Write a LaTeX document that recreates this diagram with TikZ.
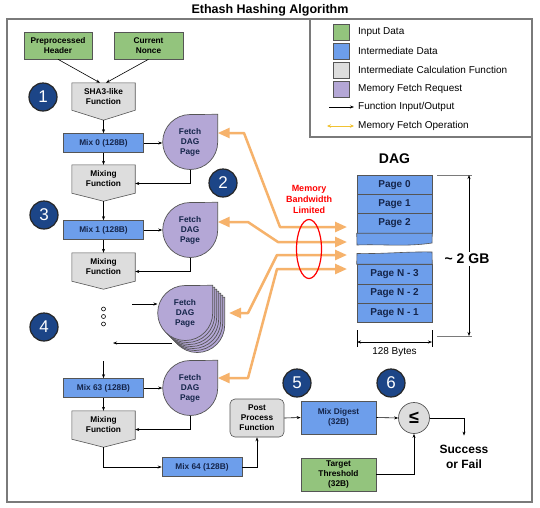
\documentclass[tikz,border=0pt]{standalone}
\usepackage{fontspec}
\setmainfont{Liberation Sans}
\usetikzlibrary{arrows.meta,backgrounds,calc}
\pgfdeclarelayer{paper}
\pgfsetlayers{paper,background,main}
\definecolor{ingreen}{HTML}{93C47D}
\definecolor{midblue}{HTML}{6D9EEB}
\definecolor{calcgray}{HTML}{DDDDDD}
\definecolor{fetchpurple}{HTML}{B4A7D6}
\definecolor{badgenavy}{HTML}{1C4587}
\definecolor{memorange}{HTML}{F6B26B}
\definecolor{legorange}{HTML}{F1C232}
\definecolor{bordergray}{HTML}{555555}
\definecolor{framegray}{HTML}{7A7A7A}
\definecolor{darktext}{HTML}{15254A}
\tikzset{
  fn/.style={draw=black, line width=0.6pt, -{Stealth[length=4pt,width=3pt]}},
  memop/.style={draw=memorange, line width=2.5pt, line join=round,
    {Triangle[length=12pt,width=10pt]}-{Triangle[length=12pt,width=10pt]}},
  boxtext/.style={font=\fontsize{8.3}{10}\selectfont\bfseries, align=center, inner sep=0pt},
  inbox/.style={boxtext, draw=bordergray, line width=0.6pt, fill=ingreen},
  databox/.style={boxtext, draw=bordergray, line width=0.6pt, fill=midblue, text=darktext,
    minimum width=80pt, minimum height=19pt},
  calcnode/.style={boxtext, minimum width=63pt},
  calcshape/.style={draw=bordergray, line width=0.6pt, fill=calcgray},
  fetchnode/.style={boxtext, circle, minimum size=55pt, text=darktext},
  fetchshape/.style={draw=bordergray, line width=0.7pt, fill=fetchpurple},
  badge/.style={circle, fill=badgenavy, draw=black!85, line width=1.2pt, minimum size=28pt,
    inner sep=0pt, text=white, font=\fontsize{17}{17}\selectfont},
  page/.style={draw=bordergray, line width=0.6pt, fill=midblue, minimum width=75pt,
    minimum height=19.3pt, inner sep=0pt, text=darktext, font=\fontsize{10}{12}\selectfont\bfseries},
  swatch/.style={draw=bordergray, line width=0.6pt, minimum size=16pt, inner sep=0pt},
  legtext/.style={anchor=west, inner sep=0pt, font=\fontsize{10}{12}\selectfont},
}
\newcommand{\pentanode}[5]{%
  \node[calcnode, minimum height=#3] (#1) at (#2) {#5};
  \coordinate (#1-tip) at ([yshift=-#4]#1.south);
  \begin{pgfonlayer}{background}
    \path[calcshape] (#1.north west) -- (#1.north east) -- (#1.south east) -- (#1-tip)
      -- (#1.south west) -- cycle;
  \end{pgfonlayer}}
\newcommand{\fetchshape}[2][0pt]{%
  \path[fetchshape] ([shift={(#1,-#1)}]#2.east |- #2.north) -- ([shift={(#1,-#1)}]#2.east)
    arc[start angle=0, end angle=-270, radius=27.5pt] -- cycle;}
\begin{document}
\begin{tikzpicture}[x=1pt, y=-1pt]
\useasboundingbox (0,0) rectangle (540,507);
\begin{pgfonlayer}{paper}
\fill[white] (0,0) rectangle (540,507);
\end{pgfonlayer}
% title and frames
\node[font=\fontsize{12.5}{14}\selectfont\bfseries] (title) at (270,10) {Ethash Hashing Algorithm};
\draw[framegray, line width=1.1pt] (7,19) rectangle (532,502);
\draw[framegray, line width=1.1pt] (310,19) rectangle (532,137);

% legend
\node[swatch, fill=ingreen] (sw1) at (341,32) {};
\node[swatch, fill=midblue] (sw2) at (341,51) {};
\node[swatch, fill=calcgray] (sw3) at (341,70) {};
\node[swatch, fill=fetchpurple] (sw4) at (341,89) {};
\node[legtext] (lt1) at (358,32) {Input Data};
\node[legtext] (lt2) at (358,51) {Intermediate Data};
\node[legtext] (lt3) at (358,70) {Intermediate Calculation Function};
\node[legtext] (lt4) at (358,89) {Memory Fetch Request};
\node[legtext] (lt5) at (358,107) {Function Input/Output};
\node[legtext] (lt6) at (358,126) {Memory Fetch Operation};
\coordinate (la5) at (329,107);
\coordinate (la6) at (327,126);
\draw[fn] (la5) -- ([xshift=-4pt]lt5.west);
\draw[draw=legorange, line width=0.8pt, {Stealth[length=4pt,width=3.5pt]}-{Stealth[length=4pt,width=3.5pt]}]
  (la6) -- ([xshift=-4pt]lt6.west);

% inputs
\node[inbox, minimum width=68pt, minimum height=27pt] (hdr) at (58,45.5) {Preprocessed\\Header};
\node[inbox, minimum width=69pt, minimum height=27pt] (nonce) at (148.5,45.5) {Current\\Nonce};

% left column
\pentanode{sha3}{103.5,96.5}{27pt}{10pt}{SHA3-like\\Function}
\node[databox] (mix0) at (103.5,143) {Mix 0 (128B)};
\pentanode{mf1}{103.5,179}{28pt}{8pt}{Mixing\\Function}
\node[databox] (mix1) at (103.5,230) {Mix 1 (128B)};
\pentanode{mf2}{103.5,267}{28pt}{8pt}{Mixing\\Function}
\node[databox] (mix63) at (103.5,388) {Mix 63 (128B)};
\pentanode{mf3}{103.5,425}{28pt}{8pt}{Mixing\\Function}
\node[databox] (mix64) at (202,467) {Mix 64 (128B)};

% fetch nodes
\node[fetchnode] (fetch0) at (190,142) {Fetch\\DAG\\Page};
\node[fetchnode] (fetch1) at (190,230) {Fetch\\DAG\\Page};
\node[fetchnode] (stack) at (185,313) {Fetch\\DAG\\Page};
\node[fetchnode] (fetch63) at (190,388) {Fetch\\DAG\\Page};
\begin{pgfonlayer}{background}
  \fetchshape{fetch0}
  \fetchshape{fetch1}
  \fetchshape{fetch63}
  \foreach \k in {12,10,8,6,4,2} {\fetchshape[\k pt]{stack}}
  \fetchshape{stack}
\end{pgfonlayer}

% dots
\foreach \yy in {309,316.5,324} \draw[black, line width=0.6pt] (103.5,\yy) circle[radius=2pt];

% badges
\node[badge] (b1) at (43,97) {1};
\node[badge] (b2) at (223,183) {2};
\node[badge] (b3) at (44,215) {3};
\node[badge] (b4) at (44,327) {4};
\node[badge] (b5) at (297,383) {5};
\node[badge] (b6) at (391,383) {6};

% function connectors, left column
\draw[fn] (hdr.south) -- ([xshift=-3.5pt]sha3.north);
\draw[fn] (nonce.south) -- ([xshift=2.5pt]sha3.north);
\draw[fn] (sha3-tip) -- (mix0.north);
\draw[fn] (mix0.east) -- (mix0.east -| fetch0.west);
\draw[fn] (mix0.south) -- (mf1.north);
\draw[fn] (fetch0.south) |- ([yshift=-4.5pt]mf1.east);
\draw[fn] (mf1-tip) -- (mix1.north);
\draw[fn] (mix1.east) -- (mix1.east -| fetch1.west);
\draw[fn] (mix1.south) -- (mf2.north);
\draw[fn] (fetch1.south) |- ([yshift=-4.5pt]mf2.east);
\coordinate (stackin) at (132,304);
\draw[fn] (stackin) -- (157.5,304);
\coordinate (stackout0) at (172,343);
\coordinate (stackout) at (113,343);
\draw[fn] (stackout0) -- (stackout);
\coordinate (mix63in) at (103.5,361);
\draw[fn] (mix63in) -- (mix63.north);
\draw[fn] (mix63.east) -- (mix63.east -| fetch63.west);
\draw[fn] (mix63.south) -- (mf3.north);
\draw[fn] (fetch63.south) |- ([yshift=-4.5pt]mf3.east);
\draw[fn] (mf3-tip) |- (mix64.west);

% post processing
\node[boxtext, draw=bordergray, line width=0.6pt, fill=calcgray, rounded corners=5pt,
  minimum width=54pt, minimum height=38pt] (post) at (257,418) {Post\\Process\\Function};
\node[databox, minimum width=75pt, minimum height=33pt] (digest) at (338.5,417.5) {Mix Digest\\(32B)};
\node[inbox, minimum width=75pt, minimum height=33pt] (target) at (338.5,474.5) {Target\\Threshold\\(32B)};
\node[circle, draw=bordergray, line width=0.7pt, fill=calcgray, minimum size=31pt, inner sep=0pt,
  font=\fontsize{18}{18}\selectfont\bfseries] (cmp) at (414,418) {≤};
\node[align=center, inner sep=0pt, font=\fontsize{12}{15}\selectfont\bfseries] (succ) at (464,456.5) {Success\\or Fail};
\draw[fn] (mix64.east) -| (post.south);
\draw[fn] (post.east) -- (digest.west);
\draw[fn] (digest.east) -- (cmp.west);
\draw[fn] (cmp.east) -| ([yshift=9pt]succ.north);
\draw[fn] (target.east) -| (cmp.south);

% DAG
\node[font=\fontsize{14}{16}\selectfont\bfseries] (daglbl) at (394.5,159) {DAG};
\node[page] (p0) at (394.5,184.65) {Page 0};
\node[page] (p1) at (394.5,203.95) {Page 1};
\node[page] (p2) at (394.5,223.25) {Page 2};
\path[draw=bordergray, line width=0.6pt, fill=midblue] (p2.south west) -- (p2.south east)
  -- (432,243) .. controls (405,247) and (385,244) .. (357,245) -- cycle;
\node[page] (pn3) at (394.5,274.15) {Page N - 3};
\node[page] (pn2) at (394.5,293.45) {Page N - 2};
\node[page] (pn1) at (394.5,312.75) {Page N - 1};
\path[draw=bordergray, line width=0.6pt, fill=midblue] (pn3.north west) -- (pn3.north east)
  -- (432,252) .. controls (405,251.5) and (385,254) .. (357,253.5) -- cycle;
% width marker
\draw[black, line width=0.6pt] (357,330) -- (357,347) (432,330) -- (432,347);
\draw[black, line width=0.6pt, {Stealth[length=4pt,width=3pt]}-{Stealth[length=4pt,width=3pt]}] (357,342) -- (432,342);
\node[inner sep=0pt, font=\fontsize{10}{12}\selectfont] (bytes) at (394.5,352) {128 Bytes};
% size marker
\draw[framegray, line width=1pt] (437,175) -- (472,175) (437,336) -- (472,336);
\draw[black, line width=0.6pt, {Stealth[length=4pt,width=3pt]}-{Stealth[length=4pt,width=3pt]}] (469,175) -- (469,336);
\node[fill=white, inner sep=2pt, font=\fontsize{14}{16}\selectfont\bfseries] (gb) at (467,259) {\textasciitilde\ 2 GB};

% memory bandwidth
\node[align=center, text=red, inner sep=0pt, font=\fontsize{9}{11}\selectfont\bfseries] (bw) at (309,199) {Memory\\Bandwidth\\Limited};
\coordinate (d1) at (347,227);
\coordinate (d2) at (347,242);
\coordinate (d3) at (347,255);
\coordinate (d4) at (347,269);
\coordinate (stackback) at (229,313);
\draw[memop] ([yshift=9pt]fetch0.east) -- (244,133) -- (280,227) -- (d1);
\draw[memop] ([yshift=8pt]fetch1.east) -- (248,222) -- (278,242) -- (d2);
\draw[memop] (stackback) -- (248,313) -- (277,255) -- (d3);
\draw[memop] ([yshift=10pt]fetch63.east) -- (248,378) -- (277,269) -- (d4);
\draw[red, line width=1.2pt] (309,249) ellipse [x radius=12.5pt, y radius=29.5pt];
\end{tikzpicture}
\end{document}
